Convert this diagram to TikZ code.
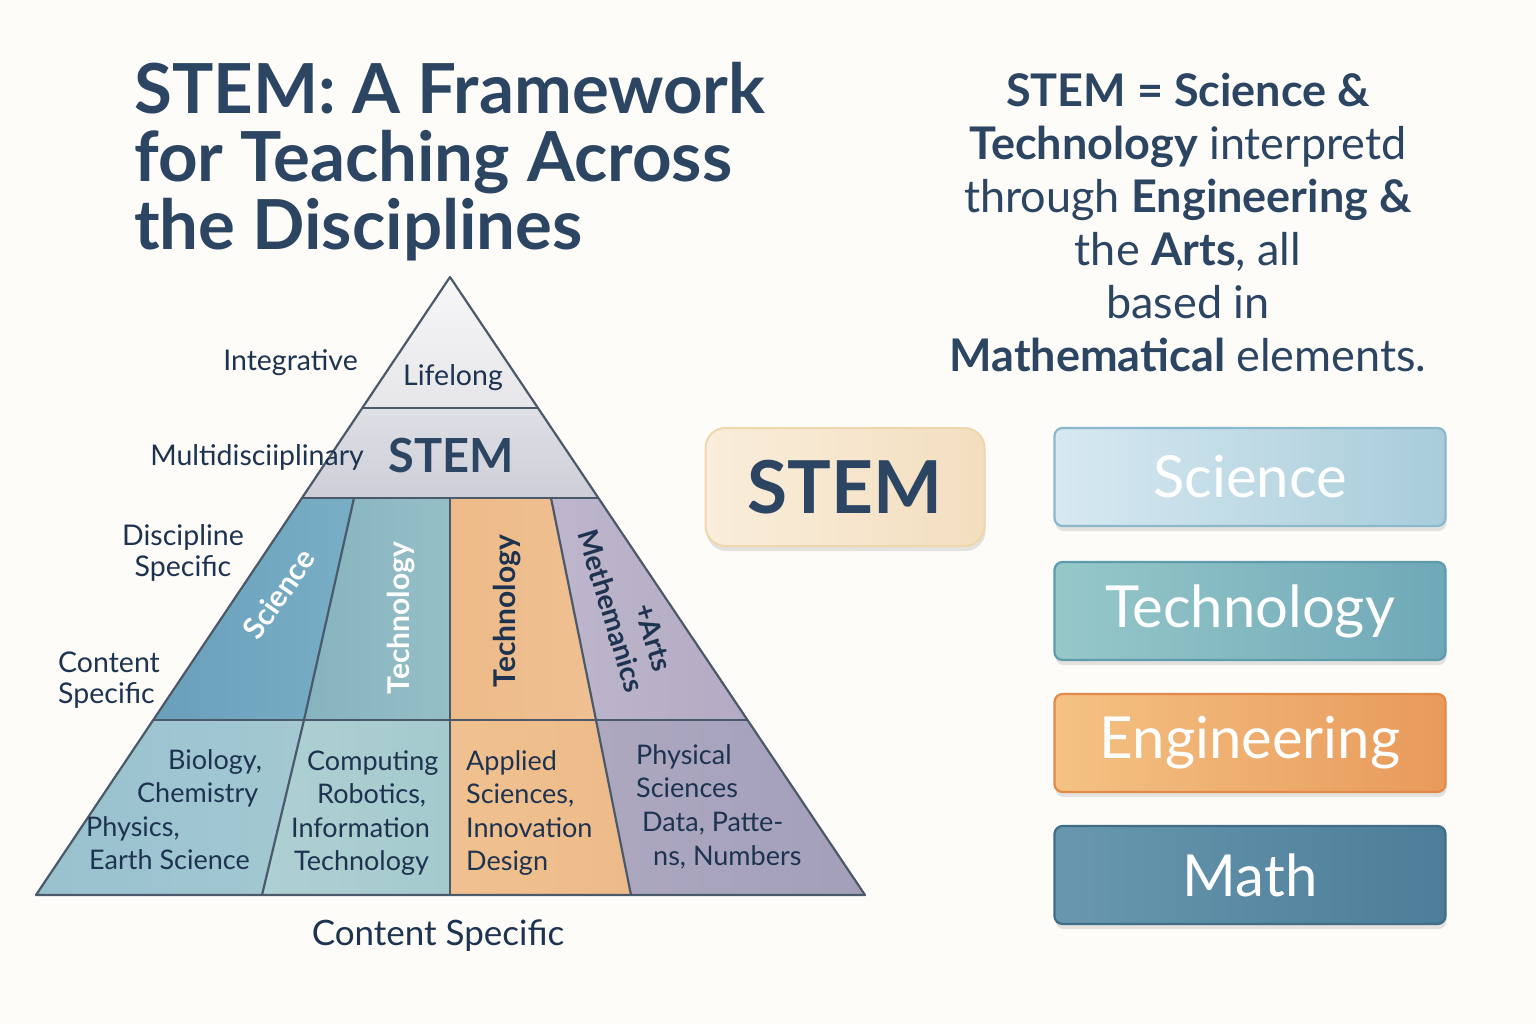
\documentclass[tikz,border=0pt]{standalone}
\usepackage{fontspec}
\setmainfont{Lato}
\usepackage{tikz}
\usetikzlibrary{shadows}
\definecolor{stemBg}{HTML}{FDFCF8}
\definecolor{stemNavy}{HTML}{1E3350}
\definecolor{stemTitle}{HTML}{2C4562}
\definecolor{stemEdge}{HTML}{4B5A6B}
\definecolor{lifeTop}{HTML}{F7F7F8}
\definecolor{lifeBot}{HTML}{E6E6EA}
\definecolor{bandTop}{HTML}{DFE0E6}
\definecolor{bandBot}{HTML}{CDCED7}
\definecolor{sciDark}{HTML}{6A9FBB}
\definecolor{sciLight}{HTML}{79AEC6}
\definecolor{techDark}{HTML}{86B3BE}
\definecolor{techLight}{HTML}{95BFC7}
\definecolor{engOne}{HTML}{EEBB88}
\definecolor{engTwo}{HTML}{EFC092}
\definecolor{mathOne}{HTML}{BEB6CC}
\definecolor{mathTwo}{HTML}{B3ABC3}
\definecolor{bioOne}{HTML}{98C1CE}
\definecolor{bioTwo}{HTML}{A3C8D2}
\definecolor{compOne}{HTML}{AFD0D2}
\definecolor{compTwo}{HTML}{A4CACD}
\definecolor{applOne}{HTML}{F0C190}
\definecolor{applTwo}{HTML}{EDBB89}
\definecolor{physOne}{HTML}{ADA8C0}
\definecolor{physTwo}{HTML}{A49FB9}
\definecolor{boxCreamA}{HTML}{F9EEDB}
\definecolor{boxCreamB}{HTML}{F3DEBF}
\definecolor{boxCreamEdge}{HTML}{F0D6AC}
\definecolor{boxSciA}{HTML}{D7E9F1}
\definecolor{boxSciB}{HTML}{A8CCDA}
\definecolor{boxSciEdge}{HTML}{8CB8CB}
\definecolor{boxTechA}{HTML}{96C8C9}
\definecolor{boxTechB}{HTML}{6FA8B7}
\definecolor{boxTechEdge}{HTML}{5E9CAC}
\definecolor{boxEngA}{HTML}{F4C283}
\definecolor{boxEngB}{HTML}{E89A5B}
\definecolor{boxEngEdge}{HTML}{E2894C}
\definecolor{boxMathA}{HTML}{6897AF}
\definecolor{boxMathB}{HTML}{4E7D99}
\definecolor{boxMathEdge}{HTML}{416D88}

\tikzset{
  titletext/.style={anchor=north west, inner sep=0pt, align=left, text=stemTitle,
    font=\fontsize{69}{68}\selectfont\bfseries},
  sidetext/.style={anchor=north, inner sep=0pt, align=center, text=stemTitle,
    font=\fontsize{45}{53}\selectfont},
  pyrline/.style={draw=stemEdge, line width=2.2pt, line join=round},
  levellabel/.style={inner sep=0pt, text=stemNavy, font=\fontsize{28.5}{31}\selectfont},
  celltext/.style={anchor=base west, inner sep=0pt, text=stemNavy, font=\fontsize{27}{27}\selectfont},
  rottext/.style={inner sep=0pt, font=\fontsize{30}{30}\selectfont\bfseries},
  stembox/.style={rounded corners=20pt, minimum width=279pt, minimum height=118pt,
    left color=boxCreamA, right color=boxCreamB, draw=boxCreamEdge, line width=2pt,
    text=stemTitle, font=\fontsize{73}{73}\selectfont\bfseries,
    drop shadow={shadow xshift=1pt, shadow yshift=-5pt, opacity=0.10, fill=black}},
  discbox/.style={rounded corners=8pt, minimum width=391pt, minimum height=98pt,
    line width=2.2pt, text=white, font=\fontsize{58}{58}\selectfont,
    drop shadow={shadow xshift=1pt, shadow yshift=-5pt, opacity=0.10, fill=black}}
}

\begin{document}
\begin{tikzpicture}[x=1pt,y=-1pt]
  \fill[stemBg] (0,0) rectangle (1536,1024);
  \useasboundingbox (0,0) rectangle (1536,1024);

  % title
  \node[titletext] (title) at (134,62) {STEM: A Framework\\for Teaching Across\\the Disciplines};

  % pyramid corners
  \coordinate (apex) at (450,277);
  \coordinate (l1) at (362,408);  \coordinate (r1) at (538,408);
  \coordinate (l2) at (302,498);  \coordinate (r2) at (598,498);
  \coordinate (l3) at (153,720);  \coordinate (r3) at (748,720);
  \coordinate (l4) at (36,895);   \coordinate (r4) at (865,895);
  \coordinate (da) at (354,498);  \coordinate (db) at (450,498);  \coordinate (dc) at (551,498);
  \coordinate (ma) at (304,720);  \coordinate (mb) at (450,720);  \coordinate (mc) at (596,720);
  \coordinate (ba) at (262,895);  \coordinate (bb) at (450,895);  \coordinate (bc) at (631,895);

  % fills
  \shade[top color=lifeTop, bottom color=lifeBot] (apex) -- (r1) -- (l1) -- cycle;
  \shade[top color=bandTop, bottom color=bandBot] (l1) -- (r1) -- (r2) -- (l2) -- cycle;
  \shade[left color=sciDark, right color=sciLight] (l2) -- (da) -- (ma) -- (l3) -- cycle;
  \shade[left color=techDark, right color=techLight] (da) -- (db) -- (mb) -- (ma) -- cycle;
  \shade[left color=engOne, right color=engTwo] (db) -- (dc) -- (mc) -- (mb) -- cycle;
  \shade[left color=mathOne, right color=mathTwo] (dc) -- (r2) -- (r3) -- (mc) -- cycle;
  \shade[left color=bioOne, right color=bioTwo] (l3) -- (ma) -- (ba) -- (l4) -- cycle;
  \shade[left color=compOne, right color=compTwo] (ma) -- (mb) -- (bb) -- (ba) -- cycle;
  \shade[left color=applOne, right color=applTwo] (mb) -- (mc) -- (bc) -- (bb) -- cycle;
  \shade[left color=physOne, right color=physTwo] (mc) -- (r3) -- (r4) -- (bc) -- cycle;

  % outlines
  \draw[pyrline] (apex) -- (l4) -- (r4) -- cycle;
  \draw[pyrline] (l1) -- (r1);
  \draw[pyrline] (l2) -- (r2);
  \draw[pyrline] (l3) -- (r3);
  \draw[pyrline] (da) -- (ma) -- (ba);
  \draw[pyrline] (db) -- (mb) -- (bb);
  \draw[pyrline] (dc) -- (mc) -- (bc);

  % level labels
  \node[levellabel, anchor=base east] (integ) at (358,370) {Integrative};
  \node[levellabel, anchor=base] (life) at (453,385) {Lifelong};
  \node[levellabel, anchor=base east] (multi) at (364,465) {Multidisciiplinary};
  \node[inner sep=0pt, anchor=base, text=stemTitle, font=\fontsize{47}{47}\selectfont\bfseries] (stemMid) at (451,472) {STEM};
  \node[levellabel, align=center] (discSpec) at (183,553) {Discipline\\Specific};
  \node[levellabel, align=left, anchor=west] (contSpec) at (58,680) {Content\\Specific};
  \node[levellabel, font=\fontsize{35}{35}\selectfont] (contBot) at (438,936) {Content Specific};

  % discipline row
  \node[rottext, text=white, rotate=55] (sciLab) at (279,594) {Science};
  \node[rottext, text=white, rotate=90] (techLab) at (401,618) {Technology};
  \node[rottext, text=stemNavy, rotate=90] (engLab) at (507,611) {Technology};
  \node[rottext, text=stemNavy, rotate=-73, align=right, font=\fontsize{28}{33}\selectfont\bfseries] (mathLab) at (627,606) {+Arts\hspace*{12pt}\\Methemanics};

  % content row
  \foreach \cx/\cy/\ct [count=\ci] in {
      168/769/{Biology,}, 137/802/{Chemistry}, 86/836/{Physics,}, 89/869/{Earth Science},
      307/770/{Computing}, 317/803/{Robotics,}, 291/837/{Information}, 294/870/{Technology},
      466/770/{Applied}, 466/803/{Sciences,}, 466/837/{Innovation}, 466/870/{Design},
      636/764/{Physical}, 636/797/{Sciences}, 642/831/{Data, Patte-}, 653/865/{ns, Numbers}}
    \node[celltext] (cell\ci) at (\cx,\cy) {\ct};

  % right side
  \node[sidetext] (defn) at (1188,73) {\textbf{STEM = Science \&}\\\textbf{Technology} interpretd\\through \textbf{Engineering \&}\\the \textbf{Arts}, all\\based in\\\textbf{Mathematical} elements.};

  \node[stembox] (stemBox) at (845,487) {STEM};
  \node[discbox, left color=boxSciA, right color=boxSciB, draw=boxSciEdge] (sciBox) at (1250,477) {Science};
  \node[discbox, left color=boxTechA, right color=boxTechB, draw=boxTechEdge] (techBox) at (1250,611) {Technology};
  \node[discbox, left color=boxEngA, right color=boxEngB, draw=boxEngEdge] (engBox) at (1250,743) {Engineering};
  \node[discbox, left color=boxMathA, right color=boxMathB, draw=boxMathEdge] (mathBox) at (1250,875) {Math};
\end{tikzpicture}
\end{document}
